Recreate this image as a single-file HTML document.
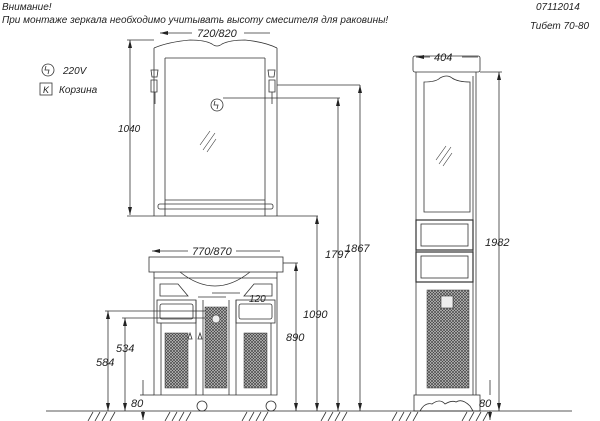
<!DOCTYPE html>
<html><head><meta charset="utf-8"><style>
html,body{margin:0;padding:0;background:#fff;width:600px;height:421px;overflow:hidden}
svg{display:block}
text{font-family:"Liberation Sans","DejaVu Sans",sans-serif;font-style:italic;fill:#222}
</style></head><body>
<svg width="600" height="421" viewBox="0 0 600 421" xmlns="http://www.w3.org/2000/svg">
<defs>
<pattern id="h" width="3" height="3" patternUnits="userSpaceOnUse">
<rect width="3" height="3" fill="#c8c8c8"/>
<path d="M0 0L3 3M3 0L0 3" stroke="#444" stroke-width="0.7"/>
</pattern>
<marker id="a" viewBox="0 0 8 4" refX="8" refY="2" markerWidth="8" markerHeight="4" orient="auto-start-reverse" markerUnits="userSpaceOnUse"><path d="M0 0L8 2L0 4z" fill="#222"/></marker>
</defs>
<text x="2" y="10" font-size="10">Внимание!</text>
<text x="2" y="23" font-size="10">При монтаже зеркала необходимо учитывать высоту смесителя для раковины!</text>
<text x="536" y="10" font-size="10">07112014</text>
<text x="530" y="29" font-size="10">Тибет  70-80</text>
<g fill="none" stroke="#333" stroke-width="0.8">
<circle cx="48" cy="70" r="6"/><path d="M46 66l-1 4h4l-1 4"/>
<rect x="40" y="83" width="12" height="12"/>
</g>
<text x="63" y="74" font-size="10">220V</text>
<text x="43" y="93" font-size="9" font-style="normal">K</text>
<text x="59" y="93" font-size="10">Корзина</text>

<g fill="none" stroke="#333" stroke-width="0.8">
<path d="M154 48L154 216M165 58L165 216M265 58L265 216M277 48L277 216"/>
<path d="M154 48Q168 42 190 40Q205 40 212 44Q217 48 222 44Q230 40 245 40Q265 42 277 48"/>
<path d="M165 58H265"/>
<path d="M165 200H265"/>
<rect x="158" y="204" width="115" height="5" rx="2"/>
<path d="M153 216H278"/>
<path d="M151 70h7l-1 7h-5z M151 80h6v12h-6z M155 92v12 M268 70h7l-1 7h-5z M269 80h6v12h-6z M272 92v12"/>
<circle cx="217" cy="105" r="6"/><path d="M215 101l-1 4h4l-1 4"/>
<path d="M200 145l10-14M203 150l12-17M207 152l9-13" stroke-width="0.6"/>
<path d="M160 33H192M244 33H270" marker-start="url(#a)"/>
<path d="M130 40V215" marker-start="url(#a)" marker-end="url(#a)"/>
<path d="M127 40H154M127 216H153"/>
<path d="M277 85H360M223 98H340M278 216H318"/>
<path d="M360 85V411" marker-start="url(#a)" marker-end="url(#a)"/>
<path d="M338 98V411" marker-start="url(#a)" marker-end="url(#a)"/>
<path d="M317 216V411" marker-start="url(#a)" marker-end="url(#a)"/>
<path d="M296 263V411" marker-start="url(#a)" marker-end="url(#a)"/>
<path d="M283 263H298"/>
<rect x="149" y="257" width="134" height="15"/>
<path d="M154 272V395H277V272"/>
<path d="M154 278H277M180 272Q215 300 250 272"/>
<path d="M160 284h18l10 12h-28zM272 284h-18l-10 12h28z"/>
<rect x="157" y="300" width="39" height="23"/><rect x="160" y="304" width="33" height="15" rx="2"/>
<rect x="236" y="300" width="39" height="23"/><rect x="239" y="304" width="33" height="15" rx="2"/>
<path d="M196 300V395M236 300V395M203 300V395M229 300V395M161 323V395M271 323V395"/>
<path d="M174 334l-2 6h4zM258 334l-2 6h4zM190 333l-2 6h4zM200 333l-2 6h4z"/>
<circle cx="202" cy="406" r="5"/><circle cx="271" cy="406" r="5"/>
<path d="M152 251H188M236 251H280" marker-start="url(#a)"/>
<path d="M198 297H226M240 293H212"/>
<path d="M105 311H225M122 318H215"/>
<path d="M108 311V411" marker-start="url(#a)" marker-end="url(#a)"/>
<path d="M125 318V411" marker-start="url(#a)" marker-end="url(#a)"/>
<path d="M143 380V395M143 411V420" marker-end="url(#a)"/>
<path d="M140 395H154"/>
<rect x="413" y="56" width="67" height="16" rx="2"/>
<path d="M416 72V395M476 72V395M473 76V395"/>
<path d="M424 212V82Q436 82 440 78Q447 74 452 78Q458 82 470 82V212Z"/>
<path d="M436 160l10-14M439 164l12-17M443 166l9-13" stroke-width="0.6"/>
<rect x="416" y="220" width="57" height="30" stroke-width="1.2"/><rect x="421" y="224" width="47" height="22"/>
<rect x="416" y="252" width="57" height="30" stroke-width="1.2"/><rect x="421" y="256" width="47" height="22"/>
<rect x="414" y="395" width="66" height="16"/>
<path d="M420 411Q425 402 432 404Q440 398 445 404Q452 400 456 402Q462 398 470 406L473 411"/>
<path d="M416 57H430M462 57H478" marker-start="url(#a)"/>
<path d="M480 72H502"/>
<path d="M499 72V411" marker-start="url(#a)" marker-end="url(#a)"/>
<path d="M490 380V395M490 411V420" marker-end="url(#a)"/>
<path d="M46 411H572" stroke="#222"/>
<path d="M88 421l5-9M95 421l5-9M102 421l5-9M110 421l5-9M165 421l5-9M172 421l5-9M179 421l5-9M186 421l5-9M242 421l5-9M249 421l5-9M256 421l5-9M263 421l5-9M321 421l5-9M328 421l5-9M335 421l5-9M342 421l5-9M392 421l5-9M399 421l5-9M406 421l5-9M413 421l5-9M462 421l5-9M469 421l5-9M476 421l5-9M483 421l5-9"/>
</g>
<g fill="url(#h)" stroke="#333" stroke-width="0.5">
<rect x="205" y="307" width="22" height="81"/>
<rect x="165" y="333" width="23" height="55"/>
<rect x="244" y="333" width="23" height="55"/>
<rect x="427" y="290" width="42" height="98"/>
</g>
<rect x="441" y="296" width="12" height="12" fill="#eee" stroke="#333" stroke-width="0.6"/>
<circle cx="216" cy="319" r="4" fill="#eee" stroke="#333" stroke-width="0.6"/>
<text x="197" y="37" font-size="11">720/820</text>
<text x="118" y="132" font-size="10">1040</text>
<text x="192" y="255" font-size="11">770/870</text>
<text x="249" y="302" font-size="10">120</text>
<text x="286" y="341" font-size="11">890</text>
<text x="303" y="318" font-size="11">1090</text>
<text x="325" y="258" font-size="11">1797</text>
<text x="345" y="252" font-size="11">1867</text>
<text x="485" y="246" font-size="11">1982</text>
<text x="116" y="352" font-size="11">534</text>
<text x="96" y="366" font-size="11">584</text>
<text x="131" y="407" font-size="11">80</text>
<text x="479" y="407" font-size="11">80</text>
<text x="434" y="61" font-size="11">404</text>
</svg>
</body></html>
